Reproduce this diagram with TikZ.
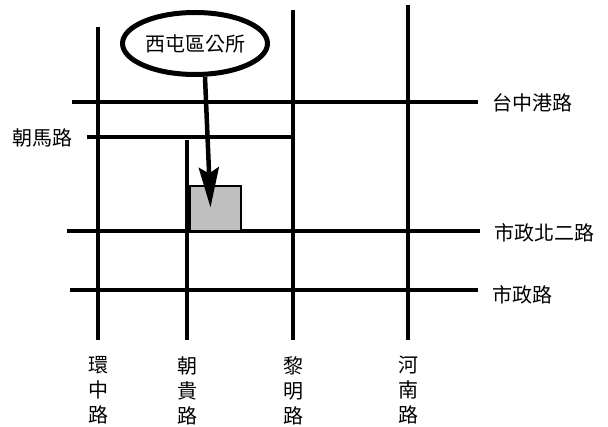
\documentclass[tikz,border=0pt]{standalone}
\usepackage{fontspec}
\setmainfont{Noto Sans CJK TC}
\usetikzlibrary{shapes.geometric,arrows.meta}

\tikzset{
  street/.style={line width=3.2pt},
  roadlabel/.style={font=\fontsize{20}{25}\selectfont, inner sep=0pt},
  vroadlabel/.style={roadlabel, align=center, anchor=north}
}

\begin{document}
\begin{tikzpicture}[x=1pt, y=-1pt]
  \useasboundingbox (0,0) rectangle (608,427);
  % Streets
  \draw[street] (98,27) coordinate (hz_top) -- (98,340) coordinate (hz_bot);
  \draw[street] (187,140) coordinate (cg_top) -- (187,340) coordinate (cg_bot);
  \draw[street] (293,10) coordinate (lm_top) -- (293,340) coordinate (lm_bot);
  \draw[street] (408,5) coordinate (hn_top) -- (408,340) coordinate (hn_bot);
  \draw[street] (72,102) coordinate (tz_l) -- (478,102) coordinate (tz_r);
  \draw[street] (87,137) coordinate (cm_l) -- (lm_top |- cm_l);
  \draw[street] (67,231) coordinate (sb_l) -- (480,231) coordinate (sb_r);
  \draw[street] (70,290) coordinate (sz_l) -- (478,290) coordinate (sz_r);
  % Nodes
  \node[rectangle, draw, line width=2.5pt, fill=black!25, minimum width=51pt, minimum height=45pt] (hall) at (215.5,208.5) {};
  \node[ellipse, draw, line width=5pt, fill=white, minimum width=145pt, minimum height=62pt, inner sep=0pt, font=\fontsize{20}{24}\selectfont] (office) at (195,43.5) {西屯區公所};
  \node[roadlabel, anchor=west] (tz) at (492,103) {台中港路};
  \node[roadlabel, anchor=west] (sb) at (494,233) {市政北二路};
  \node[roadlabel, anchor=west] (sz) at (492,295) {市政路};
  \node[roadlabel, anchor=east] (cm) at (73,138) {朝馬路};
  \node[vroadlabel] (hz) at (98,356) {環\\中\\路};
  \node[vroadlabel] (cg) at (187,356) {朝\\貴\\路};
  \node[vroadlabel] (lm) at (293,356) {黎\\明\\路};
  \node[vroadlabel] (hn) at (408,356) {河\\南\\路};
  % Edges
  \draw[line width=4.5pt, -{Stealth[length=40pt, width=20pt, inset=6pt]}] ([xshift=10pt]office.south) -- ([xshift=-5pt, yshift=1pt]hall.center);
\end{tikzpicture}
\end{document}
